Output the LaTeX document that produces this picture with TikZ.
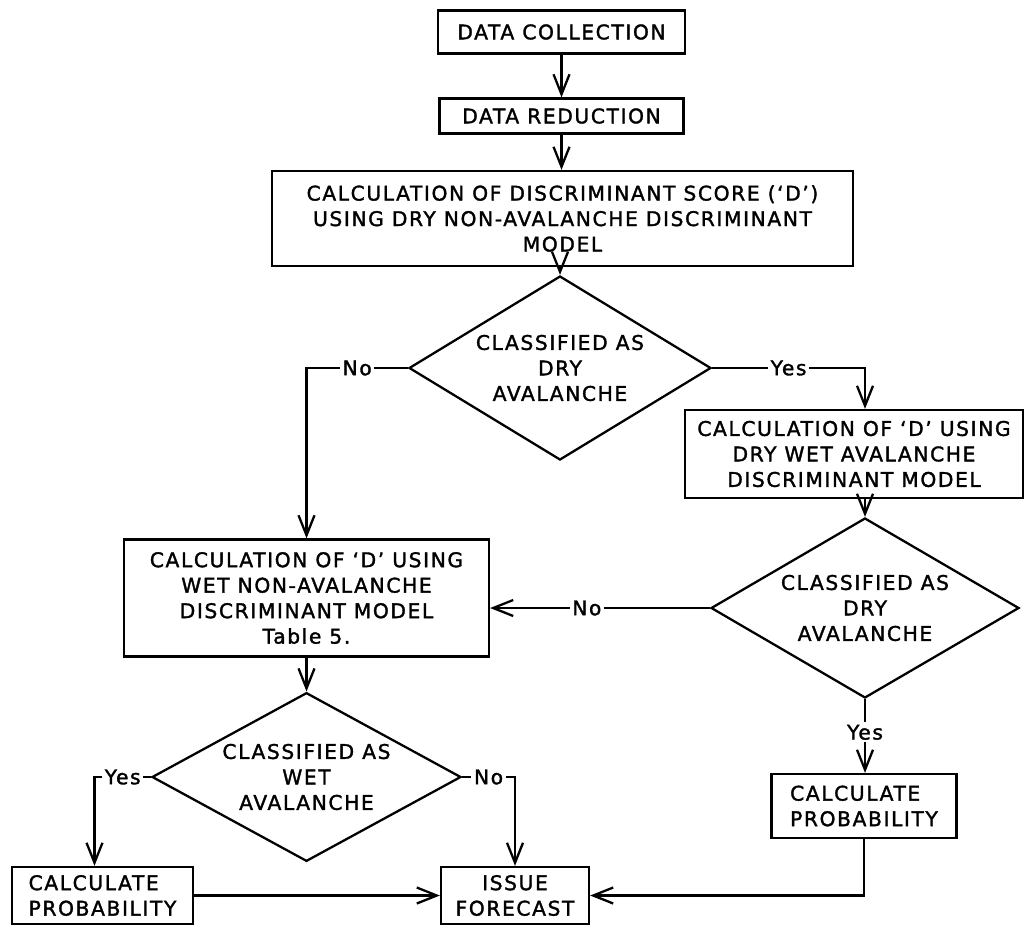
\documentclass[tikz,border=0pt]{standalone}
\usepackage{fontspec}
\setmainfont{DejaVu Sans}[LetterSpace=8,UprightFeatures={FakeBold=1.6}]
\usepackage{tikz}
\usetikzlibrary{arrows.meta,shapes.geometric,positioning}

\begin{document}
\begin{tikzpicture}[line width=1.3pt,inner sep=3pt,
    every node/.style={font=\fontsize{11.5}{14.5}\selectfont},
    box/.style={draw,rectangle,align=center},
    decide/.style={draw,diamond,aspect=1.64,inner sep=0pt,align=center},
    flow/.style={-{Straight Barb[length=0.4cm,width=0.32cm]}},
    lab/.style={fill=white,inner sep=1.5pt}]
    % \draw[help lines] (0,-19) grid (21,0);
    \useasboundingbox (0,0) rectangle (20.58,-18.5);
    \node[box,minimum width=4.94cm,minimum height=0.86cm] (collect) at (11.23,-0.64) {DATA COLLECTION};
    \node[box,minimum width=4.88cm,minimum height=0.70cm] (reduce)  at (11.23,-2.32) {DATA REDUCTION};
    \node[box,minimum width=11.62cm,minimum height=1.9cm] (score)   at (11.25,-4.37)
        {CALCULATION OF DISCRIMINANT SCORE (`D')\\ USING DRY NON-AVALANCHE DISCRIMINANT\\ MODEL};
    \node[decide,minimum width=6.04cm,minimum height=3.68cm] (dry1) at (11.2,-7.36)
        {CLASSIFIED AS\\ DRY\\ AVALANCHE};
    \node[box,minimum width=6.76cm,minimum height=1.76cm] (drywet) at (17.08,-9.08)
        {CALCULATION OF `D' USING\\ DRY WET AVALANCHE\\ DISCRIMINANT MODEL};
    \node[decide,minimum width=6.16cm,minimum height=3.6cm] (dry2) at (17.3,-12.16)
        {CLASSIFIED AS\\ DRY\\ AVALANCHE};
    \node[box,minimum width=7.3cm,minimum height=2.34cm] (wetnon) at (6.13,-11.96)
        {CALCULATION OF `D' USING\\ WET NON-AVALANCHE\\ DISCRIMINANT MODEL\\ Table 5.};
    \node[decide,minimum width=6.18cm,minimum height=3.34cm] (wet) at (6.13,-15.54)
        {CLASSIFIED AS\\ WET\\ AVALANCHE};
    \node[box,align=left,minimum width=3.62cm,minimum height=1.14cm] (probL) at (2.05,-17.91)
        {CALCULATE\\ PROBABILITY};
    \node[box,minimum width=2.96cm,minimum height=1.14cm] (issue) at (10.3,-17.91)
        {ISSUE\\ FORECAST};
    \node[box,align=left,minimum width=3.7cm,minimum height=1.28cm] (probR) at (17.28,-16.12)
        {CALCULATE\\ PROBABILITY};

    \draw[flow] (collect) -- (reduce);
    \draw[flow] (reduce.south) -- (reduce.south |- score.north);
    \draw[flow] (score.south -| dry1.north) -- (dry1.north);
    \draw[flow] (dry1.west) -| node[lab,pos=0.25]{No} (wetnon.north);
    \draw[flow] (dry1.east) -| node[lab,pos=0.25]{Yes} (dry2.north |- drywet.north);
    \draw[flow] (dry2.north |- drywet.south) -- (dry2.north);
    \draw[flow] (dry2.west) -- node[lab,pos=0.56]{No} (dry2.west -| wetnon.east);
    \draw[flow] (dry2.south) -- node[lab,pos=0.45]{Yes} (dry2.south |- probR.north);
    \draw[flow] (wetnon) -- (wet);
    \draw[flow] (wet.west) -| node[lab,pos=0.25]{Yes} ([xshift=-0.16cm]probL.north);
    \draw[flow] (wet.east) -| node[lab,pos=0.25]{No} (issue.north);
    \draw[flow] (probL) -- (issue);
    \draw[flow] (probR.south) |- (issue.east);
\end{tikzpicture}
\end{document}
